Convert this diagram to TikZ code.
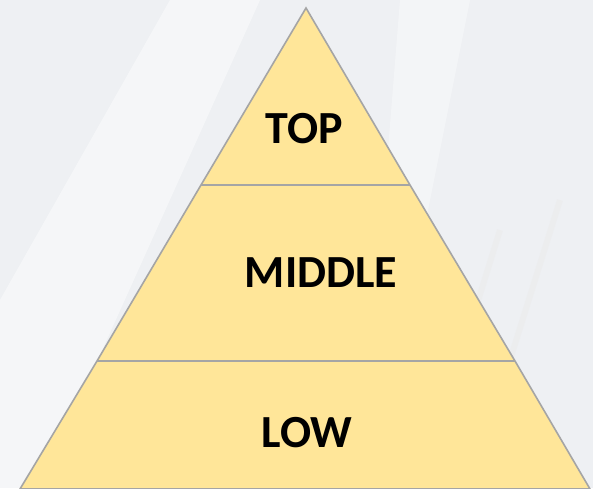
\documentclass[tikz,border=0pt]{standalone}
\usepackage{fontspec}
\setmainfont{Carlito}
\definecolor{bgc}{HTML}{EEF0F3}
\definecolor{fillc}{HTML}{FFE699}
\definecolor{linec}{HTML}{A5A5A5}
\begin{document}
\begin{tikzpicture}[x=1pt,y=-1pt,
  level/.style={fill=fillc,draw=linec,line width=1.6pt,line join=miter},
  label/.style={font=\bfseries\fontsize{46}{50}\selectfont,text=black,inner sep=0pt,anchor=center}]
\fill[bgc] (0,0) rectangle (593,488);
\useasboundingbox (0,0) rectangle (593,488);
% faint background streaks
\begin{scope}
\clip (0,0) rectangle (593,488);
\fill[white,opacity=0.45] (0,300) -- (170,0) -- (260,0) -- (40,488) -- (0,488) -- cycle;
\fill[white,opacity=0.35] (400,0) -- (470,0) -- (420,250) -- (380,250) -- cycle;
\draw[black!8,line width=6pt,opacity=0.5] (470,488) -- (560,200);
\draw[black!8,line width=6pt,opacity=0.5] (420,488) -- (500,230);
\end{scope}
\coordinate (apex) at (306,8);
\coordinate (bl) at (20,489);
\coordinate (br) at (590,489);
\coordinate (l1) at (201,185);
\coordinate (r1) at (410,185);
\coordinate (l2) at (97,361);
\coordinate (r2) at (515,361);
\filldraw[level] (apex) -- (r1) -- (r2) -- (br) -- (bl) -- (l2) -- (l1) -- cycle;
\draw[linec,line width=1.6pt] (l1) -- (r1);
\draw[linec,line width=1.6pt] (l2) -- (r2);
\node[label] (top) at (304,129) {TOP};
\node[label] (middle) at (321,273) {MIDDLE};
\node[label] (low) at (307,433) {LOW};
\end{tikzpicture}
\end{document}
